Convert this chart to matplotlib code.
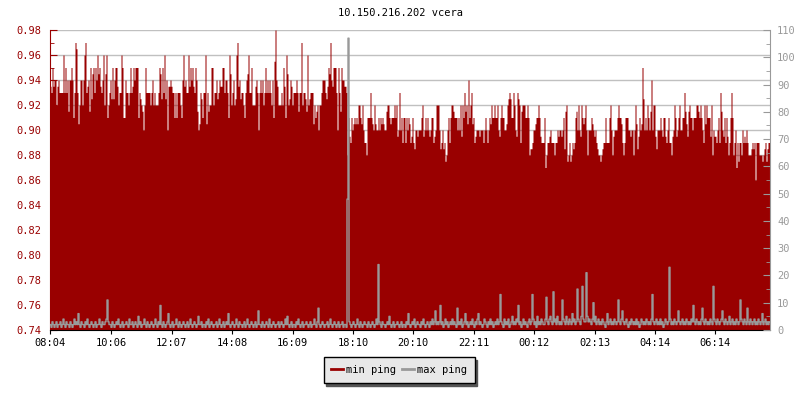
import numpy as np
import matplotlib
matplotlib.use("Agg")
import matplotlib.pyplot as plt
from matplotlib.ticker import MultipleLocator

# min ping [s], one sample every 2 minutes, values in thousandths
min_ping_part1 = [
    935, 930, 950, 935, 940, 940, 920, 935, 940, 930, 930, 930, 930, 960, 930, 950, 930, 940, 915, 940,
    940, 950, 940, 910, 930, 970, 965, 930, 905, 920, 940, 940, 920, 940, 960, 970, 930, 935, 940, 915,
    950, 925, 945, 950, 930, 950, 940, 960, 945, 950, 935, 930, 940, 960, 920, 945, 960, 910, 920, 930,
    940, 925, 950, 925, 940, 950, 950, 935, 920, 930, 930, 960, 950, 910, 910, 940, 930, 930, 920, 930,
    950, 930, 935, 950, 940, 950, 950, 950, 910, 930, 925, 920, 915, 900, 920, 950, 930, 930, 930, 930,
    920, 930, 940, 920, 930, 920, 920, 920, 930, 950, 945, 925, 950, 930, 960, 925, 940, 900, 935, 935,
]
min_ping_part2 = [
    940, 935, 930, 930, 910, 930, 910, 930, 930, 930, 920, 910, 940, 960, 935, 940, 930, 930, 960, 935,
    950, 940, 950, 935, 930, 950, 940, 915, 900, 905, 930, 925, 910, 930, 930, 960, 905, 930, 915, 920,
    920, 950, 950, 920, 930, 930, 940, 925, 930, 940, 935, 935, 950, 950, 930, 940, 940, 930, 910, 960,
    945, 920, 930, 940, 920, 925, 960, 970, 935, 940, 925, 930, 930, 920, 910, 930, 940, 945, 960, 930,
    930, 950, 920, 920, 920, 935, 940, 930, 900, 930, 940, 930, 940, 920, 930, 950, 930, 940, 930, 940,
    930, 920, 940, 910, 955, 980, 940, 935, 920, 920, 920, 930, 920, 950, 935, 910, 960, 945, 920, 925,
]
min_ping_part3 = [
    940, 935, 920, 930, 930, 930, 940, 930, 915, 930, 930, 970, 920, 930, 930, 925, 915, 960, 920, 925,
    930, 930, 930, 905, 920, 910, 915, 920, 900, 920, 920, 930, 940, 940, 940, 930, 925, 935, 950, 945,
    970, 940, 935, 950, 950, 950, 930, 900, 950, 930, 915, 950, 940, 940, 935, 935, 930, 880, 910, 895,
    890, 910, 900, 905, 910, 905, 910, 905, 920, 920, 910, 905, 920, 900, 890, 890, 880, 910, 910, 910,
    930, 910, 905, 900, 920, 905, 900, 900, 910, 900, 910, 905, 910, 905, 900, 900, 915, 920, 920, 910,
    905, 910, 910, 910, 920, 910, 920, 895, 900, 930, 900, 910, 890, 910, 910, 890, 910, 900, 910, 905,
]
min_ping_part4 = [
    890, 895, 910, 890, 885, 900, 900, 895, 900, 900, 900, 910, 920, 895, 900, 910, 900, 910, 900, 895,
    900, 910, 910, 890, 895, 900, 920, 920, 920, 900, 885, 890, 900, 885, 890, 875, 880, 900, 910, 890,
    910, 920, 920, 915, 910, 910, 910, 900, 910, 900, 920, 895, 920, 910, 930, 915, 920, 905, 940, 910,
    920, 930, 905, 910, 890, 895, 900, 900, 900, 895, 900, 900, 900, 890, 900, 910, 900, 890, 900, 910,
    905, 920, 910, 910, 920, 910, 910, 920, 900, 895, 910, 920, 910, 910, 900, 900, 905, 920, 925, 930,
    925, 910, 910, 930, 920, 900, 895, 930, 925, 920, 890, 915, 920, 920, 920, 910, 910, 920, 910, 880,
]
min_ping_part5 = [
    885, 885, 890, 900, 900, 905, 910, 910, 920, 910, 895, 890, 890, 890, 910, 870, 880, 890, 890, 895,
    900, 890, 890, 890, 880, 890, 890, 900, 895, 900, 900, 895, 900, 910, 885, 915, 920, 875, 880, 890,
    875, 880, 890, 885, 890, 910, 915, 900, 920, 900, 895, 920, 910, 905, 910, 920, 900, 880, 900, 900,
    900, 910, 905, 900, 895, 900, 890, 885, 880, 880, 875, 880, 885, 890, 890, 910, 890, 890, 890, 910,
    920, 900, 880, 895, 900, 900, 900, 910, 920, 910, 910, 905, 890, 880, 890, 910, 910, 910, 900, 900,
    895, 900, 900, 880, 900, 920, 905, 885, 895, 910, 900, 905, 950, 925, 900, 910, 900, 920, 910, 900,
]
min_ping_part6 = [
    915, 940, 900, 920, 920, 895, 885, 900, 900, 900, 910, 900, 895, 910, 910, 895, 890, 900, 910, 890,
    890, 880, 895, 900, 920, 910, 895, 900, 910, 920, 900, 900, 910, 910, 930, 915, 905, 895, 915, 920,
    910, 910, 900, 910, 910, 910, 920, 920, 915, 910, 920, 910, 900, 890, 920, 905, 920, 910, 910, 910,
    895, 920, 880, 900, 895, 895, 890, 900, 910, 890, 930, 915, 900, 895, 910, 890, 910, 895, 880, 890,
    910, 930, 910, 880, 890, 900, 870, 890, 875, 890, 890, 880, 900, 890, 895, 890, 900, 890, 880, 880,
    880, 885, 890, 885, 890, 860, 890, 890, 890, 880, 880, 880, 875, 880, 885, 890, 875, 885, 890, 890,
]

# max ping [ms], same sampling
max_ping = [
    2, 1, 3, 2, 1, 2, 3, 1, 2, 2, 3, 1, 2, 4, 2, 1, 3, 2, 2, 1, 3, 2, 1, 2, 4, 2, 3, 2, 6, 2,
    1, 3, 2, 2, 1, 3, 2, 4, 2, 1, 2, 3, 2, 1, 2, 3, 1, 2, 2, 4, 2, 1, 3, 2, 2, 3, 4, 11, 3, 2,
    2, 1, 3, 2, 1, 2, 3, 2, 4, 2, 1, 2, 3, 1, 2, 2, 3, 2, 1, 4, 2, 2, 3, 1, 2, 3, 2, 1, 5, 2,
    3, 1, 2, 2, 4, 2, 1, 3, 2, 1, 2, 3, 2, 1, 2, 4, 2, 1, 3, 2, 9, 2, 1, 3, 2, 1, 2, 3, 6, 2,
    1, 2, 3, 1, 2, 2, 4, 2, 1, 3, 2, 1, 2, 3, 2, 1, 2, 3, 1, 2, 4, 2, 1, 2, 3, 2, 1, 2, 5, 2,
    2, 3, 1, 2, 2, 1, 3, 2, 4, 1, 2, 3, 2, 1, 2, 2, 3, 1, 2, 4, 2, 1, 2, 3, 1, 2, 3, 2, 6, 2,
    1, 2, 3, 2, 1, 2, 4, 2, 1, 3, 2, 2, 1, 2, 3, 1, 2, 4, 2, 1, 2, 3, 2, 1, 2, 3, 1, 2, 7, 2,
    2, 1, 3, 2, 1, 2, 3, 2, 1, 4, 2, 1, 2, 3, 2, 1, 2, 2, 3, 1, 2, 3, 2, 1, 2, 4, 2, 5, 2, 1,
    2, 3, 1, 2, 2, 1, 3, 2, 4, 2, 1, 2, 3, 1, 2, 2, 3, 2, 1, 2, 3, 1, 2, 2, 4, 2, 1, 3, 8, 2,
    1, 2, 3, 2, 1, 2, 2, 3, 1, 2, 4, 2, 1, 2, 3, 2, 1, 2, 3, 1, 2, 2, 3, 1, 2, 2, 1, 48, 107, 3,
    2, 1, 2, 3, 2, 1, 2, 4, 2, 1, 3, 2, 1, 2, 3, 2, 2, 1, 3, 2, 1, 2, 3, 2, 1, 2, 4, 2, 24, 3,
    2, 1, 3, 2, 2, 1, 2, 3, 2, 5, 2, 1, 2, 3, 1, 2, 2, 3, 2, 1, 2, 3, 1, 2, 2, 1, 3, 2, 6, 2,
    1, 2, 3, 2, 4, 1, 2, 3, 2, 2, 1, 3, 2, 4, 2, 1, 2, 3, 2, 1, 3, 2, 4, 2, 3, 7, 2, 3, 2, 3,
    9, 2, 3, 1, 2, 4, 2, 3, 1, 2, 3, 2, 4, 2, 3, 2, 1, 8, 2, 3, 2, 4, 1, 2, 3, 6, 2, 3, 1, 2,
    3, 2, 4, 2, 1, 3, 2, 4, 6, 2, 3, 2, 1, 2, 4, 3, 2, 1, 3, 2, 4, 2, 3, 1, 2, 3, 2, 4, 2, 3,
    13, 3, 2, 1, 4, 2, 3, 2, 4, 1, 2, 3, 5, 2, 3, 2, 4, 3, 9, 2, 3, 1, 2, 4, 2, 3, 2, 1, 3, 4,
    2, 3, 13, 4, 2, 3, 1, 5, 2, 3, 2, 4, 3, 2, 2, 4, 12, 3, 2, 4, 5, 3, 2, 14, 3, 4, 2, 5, 3, 2,
    3, 2, 11, 4, 3, 2, 5, 3, 2, 4, 3, 2, 6, 3, 4, 2, 3, 15, 4, 3, 2, 5, 16, 4, 3, 3, 21, 5, 3, 4,
    3, 2, 4, 10, 3, 5, 2, 3, 4, 2, 3, 2, 4, 3, 2, 1, 3, 6, 2, 3, 4, 2, 3, 2, 4, 3, 2, 3, 11, 3,
    2, 4, 7, 3, 2, 3, 4, 2, 1, 3, 2, 4, 3, 2, 3, 2, 4, 2, 3, 1, 2, 4, 3, 2, 3, 2, 4, 3, 2, 3,
    2, 4, 13, 3, 2, 3, 4, 2, 3, 2, 4, 2, 3, 1, 2, 4, 3, 2, 3, 23, 4, 2, 3, 2, 4, 3, 2, 3, 7, 3,
    2, 3, 4, 2, 3, 2, 4, 3, 2, 3, 2, 4, 3, 9, 3, 2, 4, 3, 2, 3, 2, 4, 8, 3, 2, 4, 3, 2, 3, 2,
    4, 3, 2, 16, 4, 3, 2, 4, 3, 2, 3, 4, 7, 3, 2, 4, 3, 2, 3, 5, 2, 3, 4, 2, 3, 2, 4, 3, 2, 3,
    11, 4, 3, 2, 4, 3, 2, 8, 3, 2, 4, 3, 2, 3, 4, 2, 3, 2, 4, 3, 2, 3, 6, 2, 3, 4, 2, 3, 2, 3,
]

x_labels = ["08:04", "10:06", "12:07", "14:08", "16:09", "18:10",
            "20:10", "22:11", "00:12", "02:13", "04:14", "06:14"]

title = "10.150.216.202 vcera"
RED = "#990000"
GREY = "#999999"

plt.rcParams["font.family"] = ["DejaVu Sans Mono"]
plt.rcParams["font.size"] = 7.5

min_ping = np.array(min_ping_part1 + min_ping_part2 + min_ping_part3 +
                    min_ping_part4 + min_ping_part5 + min_ping_part6) / 1000.0
max_ping = np.array(max_ping, dtype=float)

step = 2  # minutes
t_min = np.arange(len(min_ping)) * step
t_max = np.arange(len(max_ping)) * step

# tick positions: minutes since 08:04
def minutes_since_start(lbl, start="08:04"):
    h, m = map(int, lbl.split(":"))
    h0, m0 = map(int, start.split(":"))
    return ((h * 60 + m) - (h0 * 60 + m0)) % 1440

x_ticks = [minutes_since_start(l) for l in x_labels]

fig = plt.figure(figsize=(8, 4), dpi=100, facecolor="white")
ax = fig.add_axes([0.0625, 0.175, 0.9, 0.75])
ax2 = ax.twinx()

# min ping as filled steps
edges = np.append(t_min, t_min[-1] + step)
vals = np.append(min_ping, min_ping[-1])
ax.fill_between(edges, 0.74, vals, step="post", color=RED, lw=0, zorder=1)

# max ping line on right axis
ax2.plot(t_max + step / 2, max_ping, drawstyle="steps-mid", color=GREY, lw=1)

ax.set_xlim(0, 1440)
ax.set_ylim(0.74, 0.98)
ax2.set_ylim(0, 110)

ax.set_axisbelow(True)
ax.yaxis.set_major_locator(MultipleLocator(0.02))
ax.yaxis.set_minor_locator(MultipleLocator(0.01))
ax.yaxis.set_major_formatter(matplotlib.ticker.FormatStrFormatter("%.2f"))
ax.grid(axis="y", which="major", color="#c0c0c0", lw=1)
ax.tick_params(axis="y", which="both", direction="in", colors=RED, labelcolor=RED, pad=6)
ax.tick_params(axis="y", which="major", length=5)
ax.tick_params(axis="y", which="minor", length=3)

ax2.yaxis.set_major_locator(MultipleLocator(10))
ax2.yaxis.set_minor_locator(MultipleLocator(5))
ax2.tick_params(axis="y", which="both", direction="in", colors=GREY, labelcolor=GREY, pad=5)
ax2.tick_params(axis="y", which="major", length=5)
ax2.tick_params(axis="y", which="minor", length=3)

ax.set_xticks(x_ticks)
ax.set_xticklabels(x_labels)
ax.tick_params(axis="x", direction="out", length=3, color="black", pad=3)

ax.spines["top"].set_visible(False)
ax.spines["right"].set_visible(False)
ax.spines["left"].set_color(RED)
ax.spines["bottom"].set_color("black")
for s in ["top", "left", "bottom"]:
    ax2.spines[s].set_visible(False)
ax2.spines["right"].set_color(GREY)

fig.text(0.5, 0.967, title, ha="center", va="center", color="black")

handles = [plt.Line2D([], [], color=RED, lw=2), plt.Line2D([], [], color=GREY, lw=2)]
leg = fig.legend(handles, ["min ping", "max ping"], loc="center",
                 bbox_to_anchor=(0.499, 0.075), ncol=2, frameon=True, fancybox=False,
                 handlelength=1.1, handletextpad=0.3, columnspacing=0.6,
                 borderpad=0.75, borderaxespad=0,
                 shadow={"facecolor": "#555555", "edgecolor": "#555555", "alpha": 1})
leg.get_frame().set_facecolor("#e8e8e8")
leg.get_frame().set_edgecolor("black")
leg.get_frame().set_linewidth(1)
leg.get_frame().set_alpha(1)

fig.savefig("out.png", dpi=100, facecolor="white")
